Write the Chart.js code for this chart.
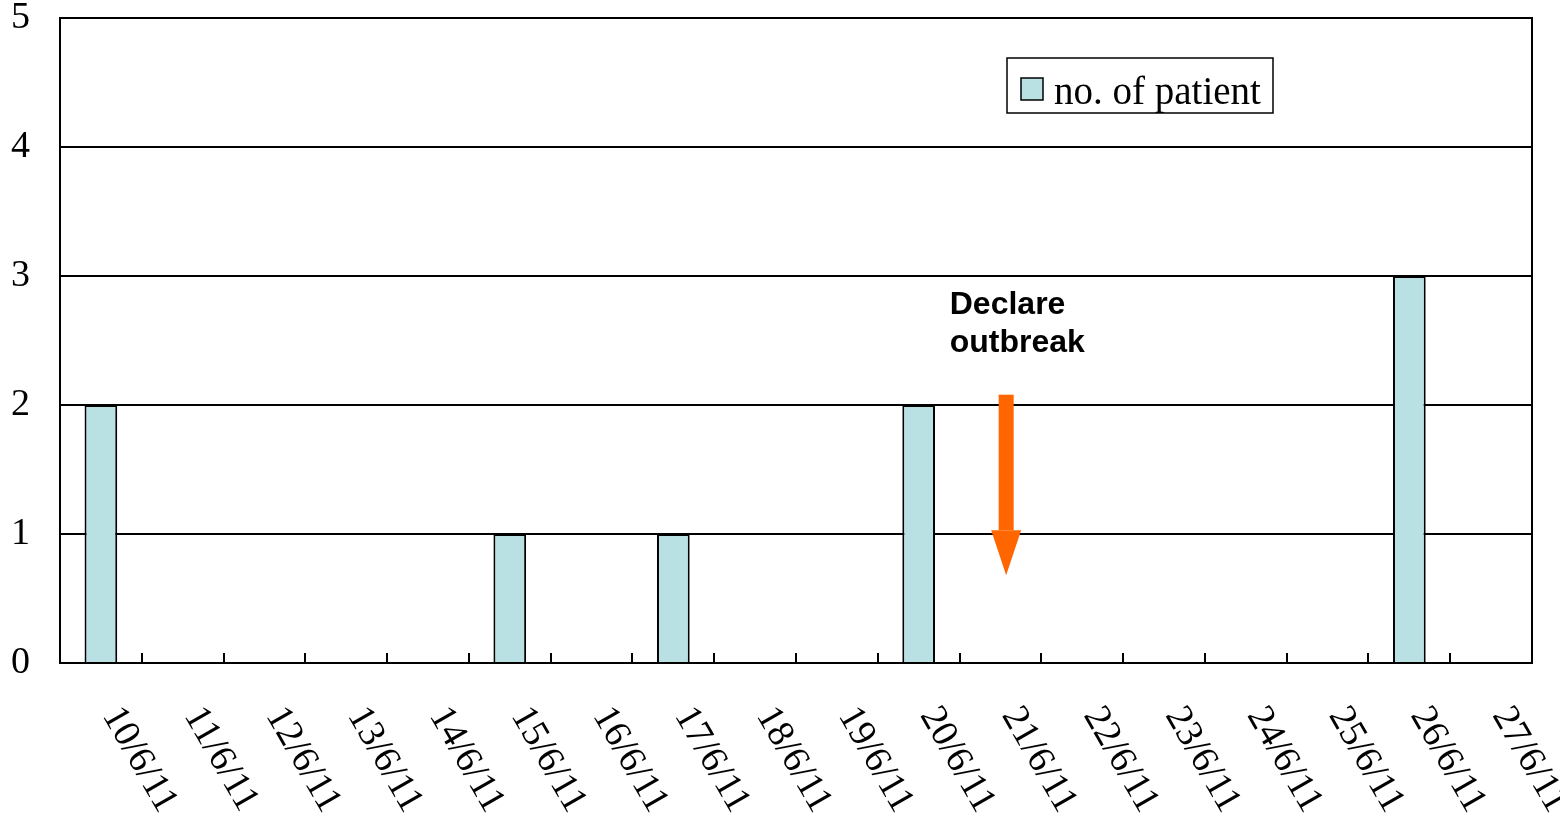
<!DOCTYPE html>
<html>
<head>
<meta charset="utf-8">
<script src="https://cdn.jsdelivr.net/npm/chart.js@4.4.1/dist/chart.umd.min.js"></script>
<style>
  html, body { margin: 0; padding: 0; background: #fff; }
  #wrap { width: 1560px; height: 819px; }
</style>
</head>
<body>
<div id="wrap"><canvas id="chart" width="1560" height="819"></canvas></div>
<script>
const dates = ["10/6/11", "11/6/11", "12/6/11", "13/6/11", "14/6/11", "15/6/11",
  "16/6/11", "17/6/11", "18/6/11", "19/6/11", "20/6/11", "21/6/11", "22/6/11",
  "23/6/11", "24/6/11", "25/6/11", "26/6/11", "27/6/11"];
const patients = [2, 0, 0, 0, 0, 1, 0, 1, 0, 0, 2, 0, 0, 0, 0, 0, 3, 0];
const yTicks = [0, 1, 2, 3, 4, 5];
const seriesName = "no. of patient";
const noteLines = ["Declare", "outbreak"];

const SERIF = "'Liberation Serif', 'DejaVu Serif', serif";
const BAR_FILL = "#b9e0e2";
const ARROW = "#ff6600";

// frame, inner tick marks, rotated date labels, legend box, arrow note
const extras = {
  id: "extras",
  afterDraw(chart) {
    const { ctx, chartArea: a } = chart;
    const x = chart.scales.x, y = chart.scales.y;
    ctx.save();

    // plot frame
    ctx.strokeStyle = "#000";
    ctx.lineWidth = 2;
    ctx.strokeRect(a.left, a.top, a.right - a.left, a.bottom - a.top);

    // short inward ticks at the category boundaries
    for (let i = 1; i < dates.length; i++) {
      const px = Math.round(x.getPixelForValue(i - 0.5));
      ctx.beginPath();
      ctx.moveTo(px, a.bottom);
      ctx.lineTo(px, a.bottom - 10);
      ctx.stroke();
    }

    // date labels, rotated clockwise, starting under each bar
    ctx.fillStyle = "#000";
    ctx.font = "38px " + SERIF;
    ctx.textAlign = "left";
    ctx.textBaseline = "alphabetic";
    dates.forEach((d, i) => {
      const px = x.getPixelForValue(i);
      ctx.save();
      ctx.translate(px + 1, a.bottom + 52);
      ctx.rotate(60 * Math.PI / 180);
      ctx.fillText(d, 0, 0);
      ctx.restore();
    });

    // legend box
    const lx = 1007, ly = 58, lw = 266, lh = 55;
    ctx.fillStyle = "#fff";
    ctx.fillRect(lx, ly, lw, lh);
    ctx.lineWidth = 1.5;
    ctx.strokeStyle = "#000";
    ctx.strokeRect(lx, ly, lw, lh);
    ctx.fillStyle = BAR_FILL;
    ctx.fillRect(1021, 78, 22, 22);
    ctx.strokeRect(1021, 78, 22, 22);
    ctx.fillStyle = "#000";
    ctx.font = "39px " + SERIF;
    ctx.fillText(seriesName, 1054, 104);

    // "Declare outbreak" note
    ctx.font = "bold 32px 'Liberation Sans', Arial, sans-serif";
    const tx = x.getPixelForValue(10.38);
    ctx.fillText(noteLines[0], tx, y.getPixelForValue(2.705));
    ctx.fillText(noteLines[1], tx, y.getPixelForValue(2.41));

    // arrow
    const ax = x.getPixelForValue(11.07);
    const top = y.getPixelForValue(2.08);
    const neck = y.getPixelForValue(1.03);
    const tip = y.getPixelForValue(0.68);
    ctx.fillStyle = ARROW;
    ctx.fillRect(ax - 7.5, top, 15, neck - top);
    ctx.beginPath();
    ctx.moveTo(ax - 15, neck);
    ctx.lineTo(ax + 15, neck);
    ctx.lineTo(ax, tip);
    ctx.closePath();
    ctx.fill();

    ctx.restore();
  }
};

new Chart(document.getElementById("chart"), {
  type: "bar",
  data: {
    labels: dates,
    datasets: [{
      label: seriesName,
      data: patients,
      backgroundColor: BAR_FILL,
      borderColor: "#000",
      borderWidth: 2,
      borderSkipped: "bottom",
      categoryPercentage: 1,
      barPercentage: 0.4
    }]
  },
  options: {
    responsive: false,
    animation: false,
    events: [],
    layout: { padding: { top: 18, right: 28, left: 0, bottom: 0 } },
    plugins: { legend: { display: false }, tooltip: { enabled: false } },
    scales: {
      x: {
        offset: true,
        grid: { display: false },
        border: { display: false },
        ticks: { display: false },
        afterFit(scale) { scale.height = 156; }
      },
      y: {
        min: 0,
        max: 5,
        afterBuildTicks(scale) { scale.ticks = yTicks.map(v => ({ value: v })); },
        grid: { color: "#000", lineWidth: 2, drawTicks: false },
        border: { display: false },
        ticks: {
          color: "#000",
          padding: 30,
          font: { family: SERIF, size: 38 }
        },
        afterFit(scale) {
          scale.width = 60;
          scale.paddingTop = 0;
          scale.paddingBottom = 0;
        }
      }
    }
  },
  plugins: [extras]
});
</script>
</body>
</html>
